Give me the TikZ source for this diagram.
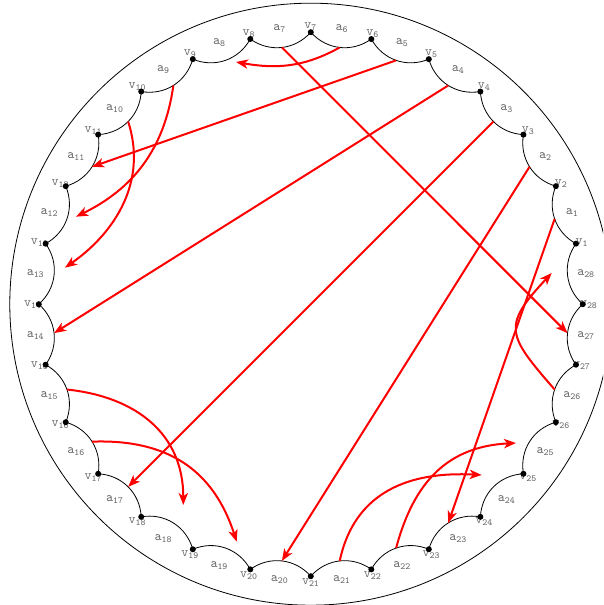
\documentclass[tikz,border=0pt]{standalone}
\usetikzlibrary{arrows.meta}
\begin{document}
\begin{tikzpicture}[x=0.75pt, y=0.75pt,
  dot/.style={circle, fill=black, inner sep=0pt, minimum size=4.5pt},
  lbl/.style={text=black!60, inner sep=0pt},
  rim/.style={black, line width=0.6pt},
  hop/.style={red, line width=1.5pt, -{Stealth[length=9pt, width=7pt, inset=2.5pt]}}]
\useasboundingbox (-310.8,-300.8) rectangle (292.2,304.2);
\clip (-310.8,-300.8) rectangle (292.2,304.2);
\draw[rim] (0,0) circle (301);
% labels first, dots on top
\foreach \i in {1,...,28} {
  \node[lbl] (lv\i) at (\i*360/28:278) {$\mathtt{v}_{\mathtt{\i}}$};
  \node[lbl] (la\i) at (\i*360/28+180/28:277) {$\mathtt{a}_{\mathtt{\i}}$};
  \node[dot] (v\i) at (\i*360/28:272) {};
}
% scalloped boundary, a_i between v_i and v_{i+1}
\foreach \i in {1,...,28} {
  \pgfmathtruncatemacro\j{mod(\i,28)+1}
  \draw[rim] (v\i.center) to[bend left=42] coordinate[midway] (a\i) (v\j.center);
}
% where the short hops stop
\coordinate (t8) at (-74.8,242.2);
\coordinate (t12) at (-234.8,87.5);
\coordinate (t13) at (-245.8,36.5);
\coordinate (t18) at (-127.5,-200.8);
\coordinate (t19) at (-74.1,-237.5);
\coordinate (t24) at (170.9,-170.8);
\coordinate (t25) at (205.2,-138.8);
\coordinate (t28) at (240.9,31.2);
% straight ones
\draw[hop] (a7) -- (a27);
\draw[hop] (a5) -- (a11);
\draw[hop] (a4) -- (a14);
\draw[hop] (a3) -- (a17);
\draw[hop] (a2) -- (a20);
\draw[hop] (a1) -- (a23);
% short hops
\draw[hop] (a6) to[out=209, in=350] (t8);
\draw[hop] (a9) to[out=262, in=26] (t12);
\draw[hop] (a10) to[out=288, in=35] (t13);
\draw[hop] (a15) to[out=354, in=90, looseness=1.1] (t18);
\draw[hop] (a16) to[out=2, in=108, looseness=1.1] (t19);
\draw[hop] (a21) to[out=78, in=177, looseness=1.1] (t24);
\draw[hop] (a22) to[out=75, in=183, looseness=1.1] (t25);
\draw[hop] (a26) to[out=131, in=227, looseness=1.6] (t28);
\end{tikzpicture}
\end{document}
